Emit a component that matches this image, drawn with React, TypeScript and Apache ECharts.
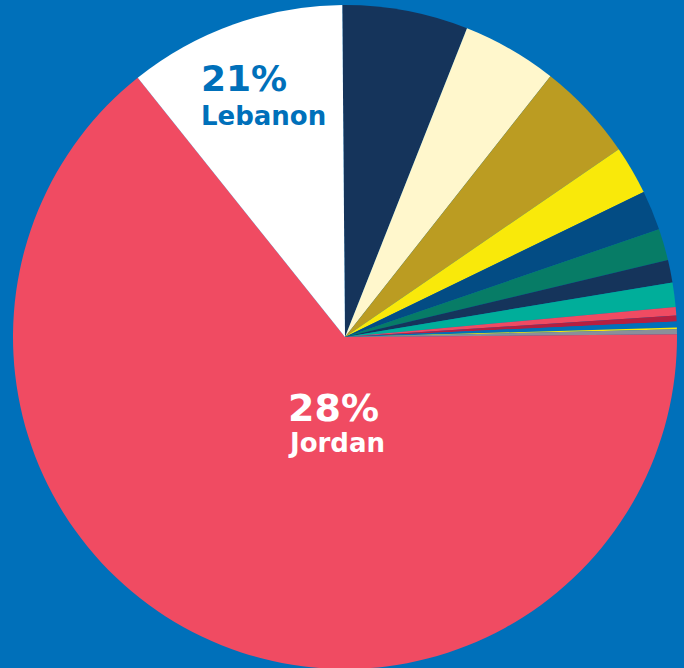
import React, { useEffect, useRef } from "react";
import * as echarts from "echarts";

// Slices in clockwise order starting just left of 12 o'clock
const sliceNames = [
  "Group A", "Group B", "Group C", "Group D", "Group E", "Group F", "Group G",
  "Group H", "Group I", "Group J", "Group K", "Group L", "Group M", "Jordan", "Lebanon",
];
const sliceValues = [6.12, 4.63, 4.81, 2.38, 1.93, 1.54, 1.09, 1.19, 0.41, 0.29, 0.29, 0.08, 0.24, 64.4, 10.6];
const sliceColors = [
  "#15345B", "#FFF7CC", "#BB9C22", "#F9E90A", "#034C84", "#077C66", "#15345B",
  "#00AE9A", "#F04B62", "#B51F41", "#0070BA", "#F9E90A", "#8A8F9A", "#F04B62", "#FFFFFF",
];
const labelPercents = ["28%", "21%"];
const labelCountries = ["Jordan", "Lebanon"];

export default function App() {
  const ref = useRef<HTMLDivElement>(null);
  useEffect(() => {
    if (!ref.current) return;
    const chart = echarts.init(ref.current, undefined, { renderer: "svg" });
    const font = "'DejaVu Sans', Verdana, sans-serif";
    chart.setOption({
      animation: false,
      backgroundColor: "#0070BA",
      series: [
        {
          type: "pie",
          center: [345, 337],
          radius: [0, 332],
          startAngle: 90.47,
          clockwise: true,
          avoidLabelOverlap: false,
          label: { show: false },
          labelLine: { show: false },
          emphasis: { disabled: true },
          itemStyle: { borderWidth: 0 },
          data: sliceNames.map((n, i) => ({
            name: n,
            value: sliceValues[i],
            itemStyle: { color: sliceColors[i] },
          })),
        },
      ],
      graphic: [
        {
          type: "text",
          z: 100,
          left: 288,
          top: 389,
          style: { text: labelPercents[0], fill: "#FFFFFF", fontSize: 38, fontWeight: "bold", fontFamily: font },
        },
        {
          type: "text",
          z: 100,
          left: 290,
          top: 430,
          style: { text: labelCountries[0], fill: "#FFFFFF", fontSize: 26, fontWeight: "bold", fontFamily: font },
        },
        {
          type: "text",
          z: 100,
          left: 201,
          top: 60,
          style: { text: labelPercents[1], fill: "#0070BA", fontSize: 36, fontWeight: "bold", fontFamily: font },
        },
        {
          type: "text",
          z: 100,
          left: 201,
          top: 103,
          style: { text: labelCountries[1], fill: "#0070BA", fontSize: 26, fontWeight: "bold", fontFamily: font },
        },
      ],
    });
    return () => chart.dispose();
  }, []);
  return (
    <div
      ref={ref}
      style={{ position: "fixed", left: 0, top: 0, width: 684, height: 668 }}
    />
  );
}
